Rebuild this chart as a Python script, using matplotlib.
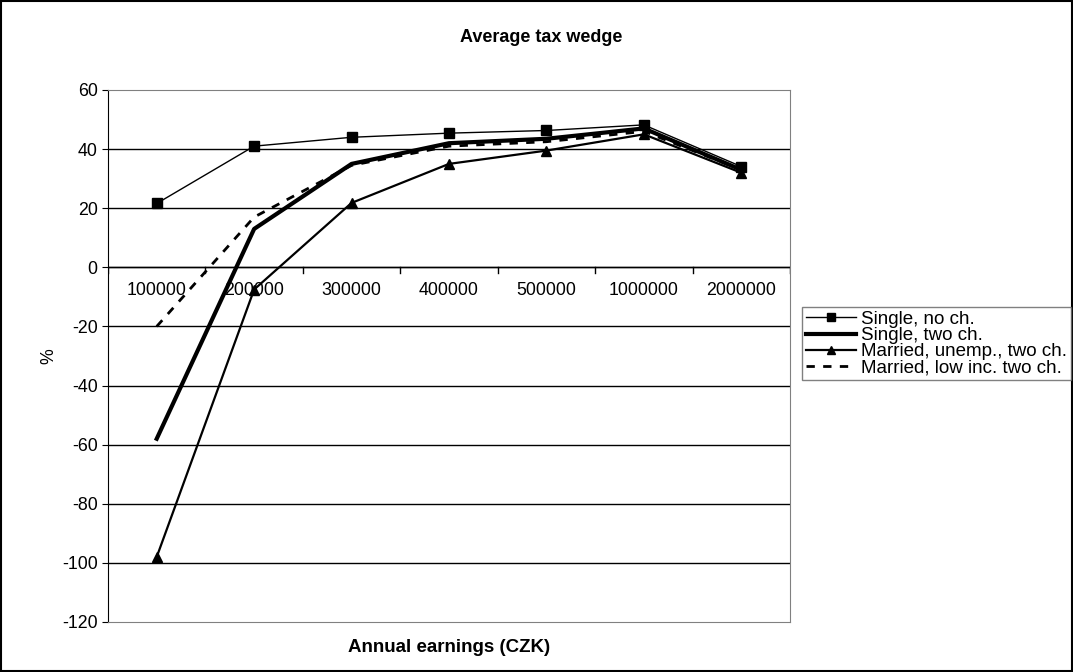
import matplotlib.pyplot as plt
from matplotlib.patches import Rectangle

plt.rcParams['font.family'] = ['Liberation Sans', 'DejaVu Sans']
plt.rcParams['axes.unicode_minus'] = False

# categories (annual earnings, CZK)
earnings = ['100000', '200000', '300000', '400000', '500000', '1000000', '2000000']

# average tax wedge, %
single_no_ch = [21.6, 41, 44, 45.4, 46.3, 48.2, 34.1]
single_two_ch = [-58, 13, 35, 42, 43.5, 47, 33]
married_unemp = [-98, -7.5, 21.8, 35, 39.5, 45, 32]
married_low = [-20, 17, 34.5, 41, 42.5, 46, 33]

fig = plt.figure(figsize=(10.73, 6.72), dpi=100)
ax = fig.add_axes([108 / 1073, 1 - 622 / 672, (790 - 108) / 1073, (622 - 90) / 672])

x = list(range(len(earnings)))
ax.plot(x, single_no_ch, color='black', lw=1, marker='s', ms=7, label='Single, no ch.')
ax.plot(x, single_two_ch, color='black', lw=3, label='Single, two ch.')
ax.plot(x, married_unemp, color='black', lw=1.6, marker='^', ms=7, label='Married, unemp., two ch.')
ax.plot(x, married_low, color='black', lw=2, ls=(0, (3, 3)), label='Married, low inc. two ch.')

ax.set_xlim(-0.5, len(earnings) - 0.5)
ax.set_ylim(-120, 60)
ax.set_yticks(range(-120, 61, 20))
for y in range(-100, 60, 20):
    ax.axhline(y, color='black', lw=1, zorder=0)
ax.axhline(0, color='black', lw=1, zorder=0)

# category axis crossing at zero
ax.set_xticks([])
for k in range(len(earnings) + 1):
    ax.plot([k - 0.5, k - 0.5], [0, -1.8], color='black', lw=1)
for k, lab in enumerate(earnings):
    ax.text(k, -8, lab, ha='center', va='center', fontsize=12.8)

for s in ['top', 'right', 'bottom']:
    ax.spines[s].set_color('#808080')
ax.spines['left'].set_color('black')
ax.tick_params(axis='y', labelsize=12.8, length=4, direction='out')

fig.text(541 / 1073, 1 - 37 / 672, 'Average tax wedge', ha='center', va='center',
         fontsize=13, fontweight='bold')
fig.text(49 / 1073, 1 - 356 / 672, '%', ha='center', va='center', rotation=90, fontsize=12.8)
fig.text(449 / 1073, 1 - 648 / 672, 'Annual earnings (CZK)', ha='center', va='center',
         fontsize=13.5, fontweight='bold')

leg = fig.legend(loc='upper left', bbox_to_anchor=(802 / 1073, 1 - 307 / 672), frameon=True,
                 fontsize=13.5, handlelength=2.67, handletextpad=0.27, borderpad=0.2,
                 labelspacing=-0.05, fancybox=False, borderaxespad=0, markerscale=0.75)
leg.get_frame().set_edgecolor('#606060')
leg.get_frame().set_linewidth(1)

fig.patches.append(Rectangle((1 / 1073, 1 / 672), 1 - 2 / 1073, 1 - 2 / 672, transform=fig.transFigure,
                             fill=False, edgecolor='black', lw=1.5))

fig.savefig('out.png', dpi=100)
